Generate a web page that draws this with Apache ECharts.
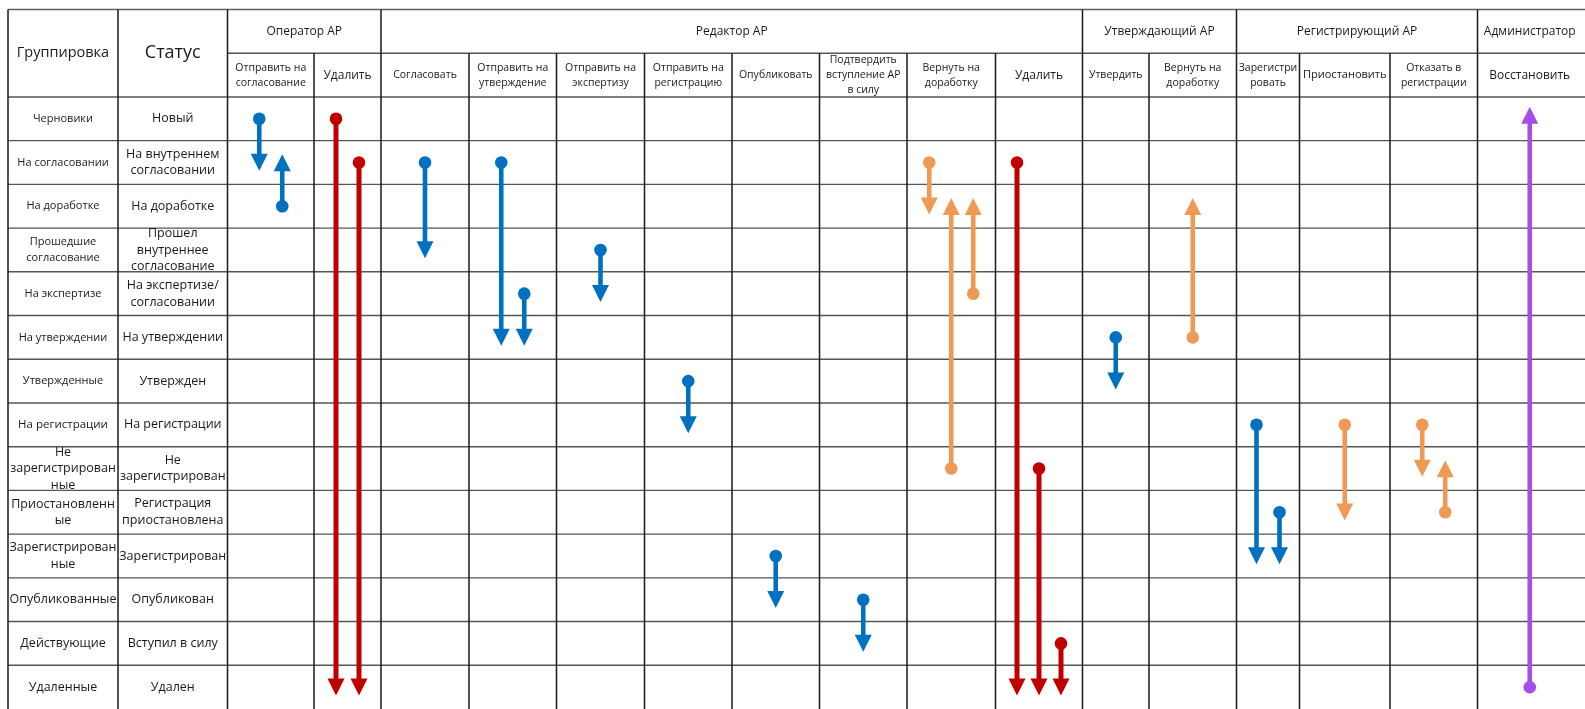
<!DOCTYPE html>
<html>
<head>
<meta charset="utf-8">
<script src="https://cdn.jsdelivr.net/npm/echarts@6/dist/echarts.min.js"></script>
<style>
html,body{margin:0;padding:0;background:#fff;}
#chart{width:1585px;height:709px;}
</style>
</head>
<body>
<div id="chart"></div>
<script>
// ---------------- DATA ----------------
const groupings = ['Черновики','На согласовании','На доработке','Прошедшие\nсогласование','На экспертизе','На утверждении','Утвержденные','На регистрации','Не\nзарегистрирован\nные','Приостановленн\nые','Зарегистрирован\nные','Опубликованные','Действующие','Удаленные'];
const statuses = ['Новый','На внутреннем\nсогласовании','На доработке','Прошел\nвнутреннее\nсогласование','На экспертизе/\nсогласовании','На утверждении','Утвержден','На регистрации','Не\nзарегистрирован','Регистрация\nприостановлена','Зарегистрирован','Опубликован','Вступил в силу','Удален'];
const roles = ['Оператор АР','Редактор АР','Утверждающий АР','Регистрирующий АР','Администратор'];
const roleSpans = [2, 8, 2, 3, 1];
const actions = ['Отправить на\nсогласование','Удалить','Согласовать','Отправить на\nутверждение','Отправить на\nэкспертизу','Отправить на\nрегистрацию','Опубликовать','Подтвердить\nвступление АР\nв силу','Вернуть на\nдоработку','Удалить','Утвердить','Вернуть на\nдоработку','Зарегистри\nровать','Приостановить','Отказать в\nрегистрации','Восстановить'];
const headerTitles = ['Группировка','Статус'];
// transitions: [action column, lane in column, from status row, to status row, kind]
// kind: 0 forward, 1 delete, 2 return, 3 restore
const transitions = [
  [0, 0, 0, 1, 0], [0, 1, 2, 1, 0],
  [1, 0, 0, 13, 1], [1, 1, 1, 13, 1],
  [2, 0, 1, 3, 0],
  [3, 0, 1, 5, 0], [3, 1, 4, 5, 0],
  [4, 0, 3, 4, 0],
  [5, 0, 6, 7, 0],
  [6, 0, 10, 11, 0],
  [7, 0, 11, 12, 0],
  [8, 0, 1, 2, 2], [8, 1, 8, 2, 2], [8, 2, 4, 2, 2],
  [9, 0, 1, 13, 1], [9, 1, 8, 13, 1], [9, 2, 12, 13, 1],
  [10, 0, 5, 6, 0],
  [11, 0, 5, 2, 2],
  [12, 0, 7, 10, 0], [12, 1, 9, 10, 0],
  [13, 0, 7, 9, 2],
  [14, 0, 7, 8, 2], [14, 1, 9, 8, 2],
  [15, 0, 13, 0, 3]
];

// ---------------- LAYOUT / STYLE ----------------
const colEdges = [8, 118, 227.5, 314, 381, 469, 556.5, 644.5, 732, 819.5, 907, 995.5, 1082.5, 1149, 1236.5, 1299.5, 1390, 1477.5, 1582];
const kindColors = ['#0070C0', '#C00000', '#EE9A55', '#A64DE6'];
const FONT = '"Open Sans", "Noto Sans", sans-serif';
const groupFont = [11,11,11,11,11,11,11,11.5,12.5,12.5,12.5,12.5,12.5,12.5];
const statusFont = 12.5;
const actionFont = [10.5,12,10.5,10.5,10.5,10.5,10.5,10.5,10.5,12,10.5,10.5,10.5,11,10.5,12];

const nRows = statuses.length;
const firstActionEdge = 2;

// lane x for a transition
const laneCount = {};
transitions.forEach(t => { laneCount[t[0]] = Math.max(laneCount[t[0]] || 0, t[1] + 1); });
function laneX(col, lane) {
  const l = colEdges[firstActionEdge + col], r = colEdges[firstActionEdge + col + 1];
  const c = (l + r) / 2;
  const n = laneCount[col];
  const sp = n >= 3 ? 22 : 23;
  return c + (lane - (n - 1) / 2) * sp;
}
const arrowData = transitions.map(t => [laneX(t[0], t[1]), t[2], t[3], t[4]]);

const chart = echarts.init(document.getElementById('chart'), null, {renderer: 'canvas'});

function txt(x, y, text, size, color) {
  return {type: 'text', style: {x: x, y: y, text: text, fill: color || '#1a1a1a', font: size + 'px ' + FONT, align: 'center', verticalAlign: 'middle', lineHeight: Math.round(size * 1.38)}};
}

const option = {
  animation: false,
  backgroundColor: '#fff',
  grid: {left: 0, top: 9.5, width: 1585, height: 16 * 43.85, containLabel: false},
  xAxis: {type: 'value', min: 0, max: 1585, show: false},
  yAxis: {type: 'value', min: -2, max: 14, inverse: true, show: false},
  series: [
    {
      // table lines
      type: 'custom', coordinateSystem: 'cartesian2d', clip: false, silent: true,
      data: [[0, 0]],
      renderItem: function (params, api) {
        const ch = [];
        const xr = api.coord([1585, 0])[0];
        const hline = (y, x0, col) => { const a = api.coord([x0, y]); ch.push({type: 'line', shape: {x1: a[0], y1: a[1], x2: xr, y2: a[1]}, style: {stroke: col, lineWidth: 1.4}}); };
        const vline = (x, y0, y1, col) => { const a = api.coord([x, y0]), b = api.coord([x, y1]); ch.push({type: 'line', shape: {x1: a[0], y1: a[1], x2: b[0], y2: b[1]}, style: {stroke: col, lineWidth: 1.5}}); };
        hline(-2, colEdges[0], '#606060');
        hline(-1, colEdges[2], '#555');
        for (let r = 0; r < nRows; r++) hline(r, colEdges[0], '#555');
        // role boundaries
        const roleEdges = new Set();
        let acc = 0;
        roleSpans.forEach(s => { roleEdges.add(firstActionEdge + acc); acc += s; roleEdges.add(firstActionEdge + acc); });
        for (let i = 0; i < colEdges.length - 1; i++) {
          const full = i <= firstActionEdge || roleEdges.has(i);
          vline(colEdges[i], full ? -2 : -1, nRows, '#1a1a1a');
        }
        return {type: 'group', children: ch};
      }
    },
    {
      // header texts
      type: 'custom', coordinateSystem: 'cartesian2d', clip: false, silent: true,
      data: [[0, 0]],
      renderItem: function (params, api) {
        const ch = [];
        const p1 = api.coord([(colEdges[0] + colEdges[1]) / 2, -1]);
        ch.push(txt(p1[0], p1[1], headerTitles[0], 14.5));
        const p2 = api.coord([(colEdges[1] + colEdges[2]) / 2, -1]);
        ch.push(txt(p2[0], p2[1], headerTitles[1], 18));
        let acc = firstActionEdge;
        roles.forEach((r, i) => {
          const l = colEdges[acc], rr = colEdges[acc + roleSpans[i]];
          const p = api.coord([(l + rr) / 2, -1.5]);
          ch.push(txt(p[0], p[1], r, 12));
          acc += roleSpans[i];
        });
        actions.forEach((a, i) => {
          const l = colEdges[firstActionEdge + i], rr = colEdges[firstActionEdge + i + 1];
          const p = api.coord([(l + rr) / 2, -0.5]);
          const t = txt(p[0], p[1], a, actionFont[i]);
          t.style.lineHeight = 15;
          ch.push(t);
        });
        return {type: 'group', children: ch};
      }
    },
    {
      // row label texts
      type: 'custom', coordinateSystem: 'cartesian2d', clip: false, silent: true,
      data: statuses.map((s, i) => [i]),
      renderItem: function (params, api) {
        const r = api.value(0);
        const a = api.coord([(colEdges[0] + colEdges[1]) / 2, r + 0.5]);
        const b = api.coord([(colEdges[1] + colEdges[2]) / 2, r + 0.5]);
        const t1 = txt(a[0], a[1], groupings[r], groupFont[r]);
        t1.style.lineHeight = 16.5;
        const t2 = txt(b[0], b[1], statuses[r], statusFont);
        t2.style.lineHeight = 16.7;
        return {type: 'group', children: [t1, t2]};
      }
    },
    {
      // transition arrows
      type: 'custom', coordinateSystem: 'cartesian2d', clip: false, silent: true,
      data: arrowData,
      renderItem: function (params, api) {
        const x = api.value(0), from = api.value(1), to = api.value(2), k = api.value(3);
        const p0 = api.coord([x, from + 0.5]);
        const p1 = api.coord([x, to + 0.5]);
        const dir = p1[1] > p0[1] ? 1 : -1;
        const color = kindColors[k];
        const headLen = 17, half = 8.5;
        const tip = p1[1] + dir * (k === 3 ? 12 : 8.3);
        const base = tip - dir * headLen;
        return {type: 'group', children: [
          {type: 'line', shape: {x1: p0[0], y1: p0[1], x2: p0[0], y2: base + dir * 1}, style: {stroke: color, lineWidth: k === 1 ? 5 : 4.6}},
          {type: 'polygon', shape: {points: [[p1[0] - half, base], [p1[0] + half, base], [p1[0], tip]]}, style: {fill: color}},
          {type: 'circle', shape: {cx: p0[0], cy: p0[1], r: 6.3}, style: {fill: color}}
        ]};
      }
    }
  ]
};
chart.setOption(option);
</script>
</body>
</html>
